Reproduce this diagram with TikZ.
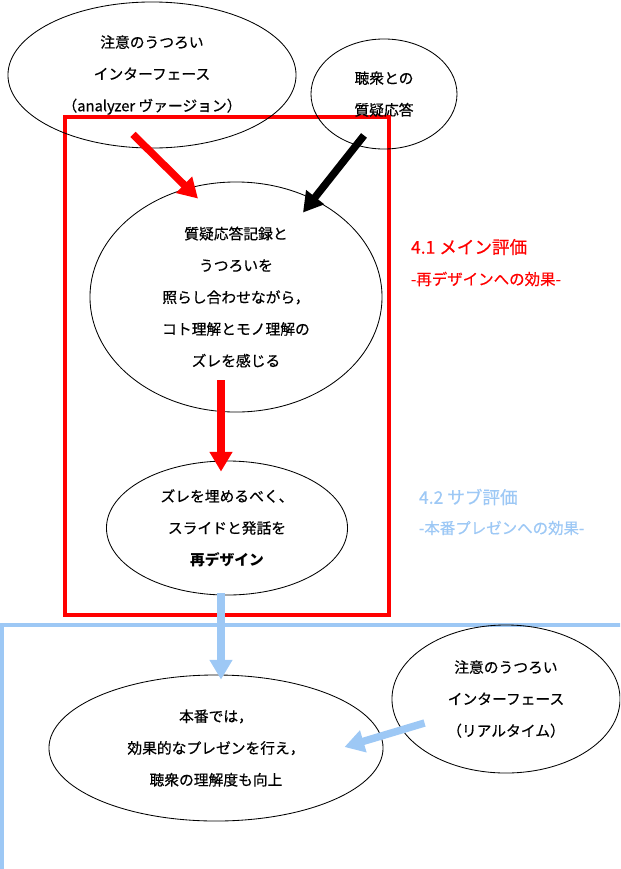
\documentclass[tikz,border=0pt]{standalone}
\usepackage{fontspec}
\setmainfont{Noto Sans CJK JP}[UprightFeatures={FakeBold=0.5}]
\usetikzlibrary{shapes.geometric,arrows.meta,calc}

\definecolor{hauptrot}{RGB}{255, 0, 0}
\definecolor{hellblau}{RGB}{157, 200, 245}

\begin{document}
\begin{tikzpicture}[x=0.025cm, y=-0.025cm,
	blase/.style={draw=black, line width=0.6pt, ellipse, align=center, inner sep=0pt,
		font={\fontsize{10.5pt}{22.6pt}\selectfont}},
	pfeil/.style={line width=5.3pt, -{Triangle[length=14pt, width=15.5pt]}},
	titel/.style={anchor=west, font={\fontsize{12.5pt}{14pt}\selectfont}},
	untertitel/.style={anchor=west, font={\fontsize{11pt}{13pt}\selectfont}}]
		
		% Bildrand
		\useasboundingbox (0,0) rectangle (620,869);
		\clip (0,0) rectangle (620,869);
		
		% Rahmen: Haupt- und Nebenbewertung
		\draw[hauptrot, line width=2.3pt] (65,117) rectangle (389,615);
		\draw[hellblau, line width=2.5pt] (2,900) |- (660,625);
		
		% Ellipsen
		\node[blase, minimum width=7.2cm, minimum height=3.65cm] (ifana) at (152,75)
			{注意のうつろい\\インターフェース\\（analyzer ヴァージョン）};
		\node[blase, minimum width=3.65cm, minimum height=2.75cm] (qa) at (384,94)
			{聴衆との\\質疑応答};
		\node[blase, minimum width=7.3cm, minimum height=5.75cm] (zure) at (236,297)
			{質疑応答記録と\\うつろいを\\照らし合わせながら，\\コト理解とモノ理解の\\ズレを感じる};
		\node[blase, minimum width=6.025cm, minimum height=3.35cm] (redesign) at (227,528)
			{ズレを埋めるべく、\\スライドと発話を\\\textbf{再デザイン}};
		\node[blase, minimum width=8.35cm, minimum height=3.65cm] (honban) at (216,748)
			{本番では，\\効果的なプレゼンを行え，\\聴衆の理解度も向上};
		\node[blase, minimum width=5.7cm, minimum height=3.7cm] (ifreal) at (506,699)
			{注意のうつろい\\インターフェース\\（リアルタイム）};
		
		% Beschriftung der Bewertungen
		\node[titel, text=hauptrot] (haupt) at (406,247) {4.1 メイン評価};
		\node[untertitel, text=hauptrot] (hauptsub) at (406,279) {-再デザインへの効果-};
		\node[titel, text=hellblau] (sub) at (414,497) {4.2 サブ評価};
		\node[untertitel, text=hellblau] (subsub) at (414,528) {-本番プレゼンへの効果-};
		
		% Pfeile
		\draw[pfeil, hauptrot] ($(ifana.south)+(-19,-14)$) -- ($(zure.north)+(-38,17)$);
		\draw[pfeil, black] ($(qa.south)+(-20,-14)$) -- ($(zure.north)+(67,31)$);
		\draw[pfeil, hauptrot] ($(zure.south)+(-15,-32)$) -- ($(redesign.north)+(-6,11)$);
		\draw[pfeil, hellblau] ($(redesign.south)+(-6,-2)$) -- ($(honban.north)+(5,5)$);
		\draw[pfeil, hellblau] ($(ifreal.west)+(33,24)$) -- ($(honban.east)+(-39,-1)$);
		
	\end{tikzpicture}
\end{document}
